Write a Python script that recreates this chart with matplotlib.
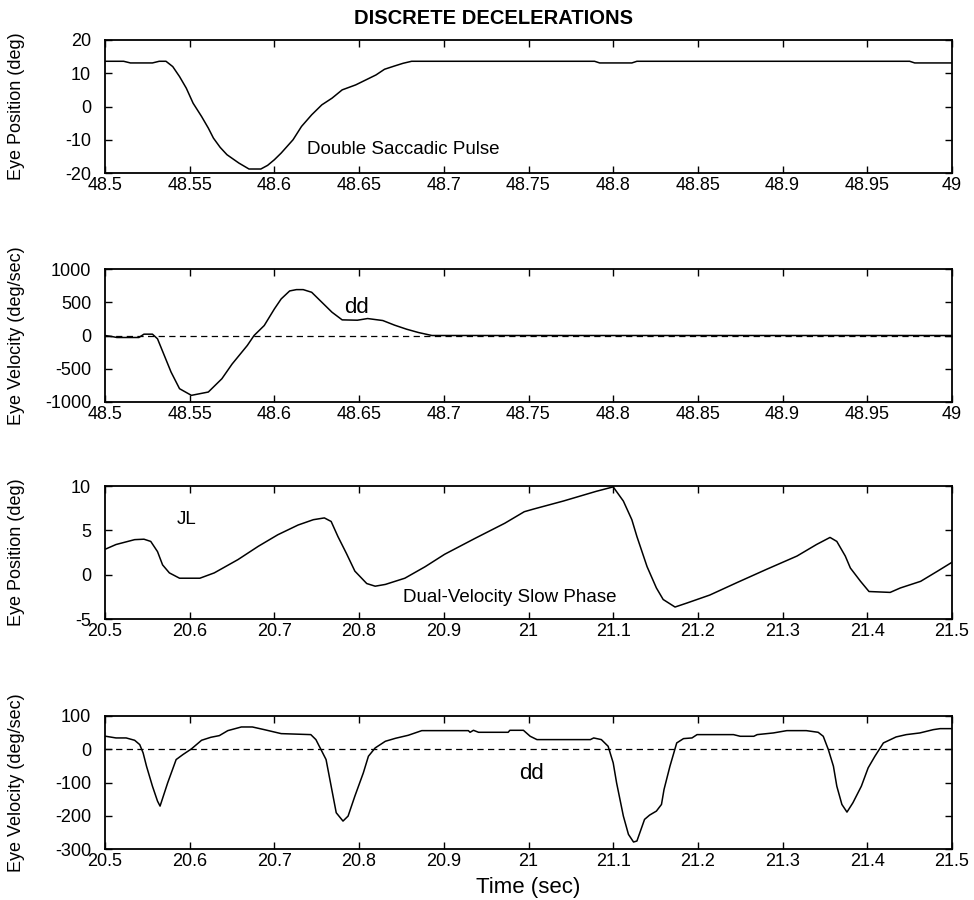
#
# Discrete decelerations: eye position / velocity traces (two recordings)
#

import matplotlib
matplotlib.use('Agg')
import matplotlib.pyplot as plt

plt.rcParams['font.family'] = ['Liberation Sans', 'DejaVu Sans']
plt.rcParams['axes.unicode_minus'] = False

# --- double saccadic pulse, 48.5-49 s ---
t_pulse = [48.500, 48.511, 48.515, 48.528, 48.532, 48.536, 48.540, 48.544,
           48.548, 48.552, 48.557, 48.561, 48.564, 48.568, 48.572, 48.579,
           48.585, 48.592, 48.596, 48.600, 48.604, 48.611, 48.616, 48.622,
           48.628, 48.634, 48.640, 48.648, 48.654, 48.660, 48.665, 48.671,
           48.676, 48.681, 48.789, 48.792, 48.811, 48.814, 48.975, 48.978,
           49.000]
pos_pulse = [13.6, 13.6, 13.1, 13.1, 13.6, 13.6, 12.0, 9.0,
             5.5, 1.0, -3.0, -6.5, -9.5, -12.3, -14.5, -17.0,
             -18.8, -18.8, -17.7, -16.0, -14.0, -10.0, -6.0, -2.5,
             0.5, 2.5, 5.0, 6.5, 8.0, 9.5, 11.2, 12.2,
             13.0, 13.6, 13.6, 13.1, 13.1, 13.6, 13.6, 13.1,
             13.1]

t_pulse_v = [48.500, 48.505, 48.507, 48.520, 48.523, 48.528, 48.531, 48.535,
             48.539, 48.544, 48.551, 48.561, 48.569, 48.575, 48.584, 48.588,
             48.594, 48.600, 48.604, 48.609, 48.613, 48.617, 48.622, 48.628,
             48.634, 48.640, 48.649, 48.655, 48.664, 48.671, 48.678, 48.685,
             48.693, 49.000]
vel_pulse = [0, -20, -30, -30, 20, 20, -50, -300,
             -550, -800, -900, -850, -650, -430, -150, 0,
             150, 400, 550, 670, 690, 690, 650, 500,
             350, 235, 230, 255, 225, 155, 95, 45,
             0, 0]

# --- dual-velocity slow phase, 20.5-21.5 s ---
t_slow = [20.501, 20.513, 20.535, 20.546, 20.554, 20.562, 20.568, 20.576,
          20.588, 20.612, 20.629, 20.657, 20.681, 20.704, 20.728, 20.746,
          20.759, 20.767, 20.775, 20.785, 20.795, 20.809, 20.819, 20.831,
          20.854, 20.878, 20.901, 20.937, 20.972, 20.995, 21.006, 21.041,
          21.080, 21.100, 21.112, 21.122, 21.128, 21.140, 21.151, 21.159,
          21.173, 21.187, 21.214, 21.246, 21.281, 21.317, 21.340, 21.356,
          21.364, 21.374, 21.380, 21.392, 21.402, 21.427, 21.439, 21.463,
          21.483, 21.500]
pos_slow = [2.9, 3.4, 3.95, 4.0, 3.75, 2.6, 1.1, 0.2,
            -0.4, -0.4, 0.2, 1.7, 3.2, 4.5, 5.6, 6.2,
            6.4, 6.0, 4.3, 2.4, 0.4, -1.0, -1.3, -1.1,
            -0.4, 0.9, 2.3, 4.1, 5.8, 7.1, 7.4, 8.3,
            9.4, 9.9, 8.3, 6.2, 4.3, 0.9, -1.5, -2.8,
            -3.65, -3.2, -2.3, -0.9, 0.6, 2.1, 3.4, 4.2,
            3.75, 2.1, 0.75, -0.75, -1.9, -2.0, -1.5, -0.75,
            0.4, 1.4]

t_slow_v = [20.501, 20.513, 20.525, 20.535, 20.541, 20.545, 20.549, 20.556,
            20.562, 20.565, 20.574, 20.584, 20.592, 20.602, 20.614, 20.625,
            20.635, 20.645, 20.661, 20.674, 20.688, 20.708, 20.743, 20.749,
            20.755, 20.761, 20.767, 20.773, 20.781, 20.787, 20.795, 20.805,
            20.811, 20.819, 20.831, 20.843, 20.858, 20.874, 20.929, 20.931,
            20.935, 20.941, 20.976, 20.978, 20.994, 21.002, 21.010, 21.073,
            21.077, 21.086, 21.094, 21.100, 21.104, 21.112, 21.118, 21.124,
            21.128, 21.137, 21.143, 21.151, 21.157, 21.160, 21.167, 21.175,
            21.183, 21.193, 21.199, 21.242, 21.250, 21.266, 21.270, 21.289,
            21.305, 21.328, 21.342, 21.348, 21.354, 21.360, 21.364, 21.370,
            21.376, 21.383, 21.393, 21.401, 21.409, 21.419, 21.434, 21.446,
            21.462, 21.478, 21.486, 21.500]
vel_slow = [39, 34, 34, 27, 14, -11, -51, -111,
            -156, -171, -101, -31, -16, 1, 27, 36,
            41, 56, 67, 67, 59, 47, 44, 29,
            -1, -31, -111, -191, -216, -201, -141, -71,
            -21, 4, 24, 33, 42, 56, 56, 51,
            57, 51, 51, 57, 57, 39, 29, 29,
            34, 29, 9, -41, -101, -201, -256, -279,
            -276, -211, -198, -186, -166, -121, -51, 19,
            32, 34, 44, 44, 39, 39, 44, 49,
            56, 56, 51, 39, -1, -51, -111, -166,
            -189, -161, -111, -56, -21, 19, 37, 44,
            49, 59, 62, 62]

# ticks
xt_pulse = [48.5, 48.55, 48.6, 48.65, 48.7, 48.75, 48.8, 48.85, 48.9, 48.95, 49.0]
xl_pulse = ['48.5', '48.55', '48.6', '48.65', '48.7', '48.75', '48.8', '48.85',
            '48.9', '48.95', '49']
xt_slow = [20.5, 20.6, 20.7, 20.8, 20.9, 21.0, 21.1, 21.2, 21.3, 21.4, 21.5]
xl_slow = ['20.5', '20.6', '20.7', '20.8', '20.9', '21', '21.1', '21.2',
           '21.3', '21.4', '21.5']

fig = plt.figure(figsize=(9.74, 9.0), dpi=100)

L, W = 105/974, 847/974
tops = [40, 269, 486, 716]
H = 133/900
axes = [fig.add_axes([L, 1 - (top + 133)/900, W, H]) for top in tops]

TICK_FS = 13
NOTE_FS = 13.5


def style(ax, xlim, ylim, xticks, xlabels, yticks, ylabel):
    ax.set_xlim(*xlim)
    ax.set_ylim(*ylim)
    ax.set_xticks(xticks)
    ax.set_xticklabels(xlabels)
    ax.set_yticks(yticks)
    ax.tick_params(direction='in', length=5, width=1, top=True, right=True,
                   labelsize=TICK_FS, color='black')
    ax.tick_params(axis='x', pad=3)
    ax.tick_params(axis='y', pad=10)
    for sp in ax.spines.values():
        sp.set_linewidth(1.3)
    ax.set_ylabel(ylabel, fontsize=13, va='center')
    ax.yaxis.set_label_coords(-0.104, 0.5)


dash = (0, (5, 3.5))

ax = axes[0]
ax.plot(t_pulse, pos_pulse, color='black', lw=1.1)
style(ax, (48.5, 49), (-20, 20), xt_pulse, xl_pulse, [-20, -10, 0, 10, 20],
      'Eye Position (deg)')
ax.text(48.619, -13.0, 'Double Saccadic Pulse', fontsize=NOTE_FS, va='center')

ax = axes[1]
ax.axhline(0, color='black', lw=0.9, ls=dash)
ax.plot(t_pulse_v, vel_pulse, color='black', lw=1.1)
style(ax, (48.5, 49), (-1000, 1000), xt_pulse, xl_pulse,
      [-1000, -500, 0, 500, 1000], 'Eye Velocity (deg/sec)')
ax.text(48.641, 422, 'dd', fontsize=16, va='center')

ax = axes[2]
ax.plot(t_slow, pos_slow, color='black', lw=1.1)
style(ax, (20.5, 21.5), (-5, 10), xt_slow, xl_slow, [-5, 0, 5, 10],
      'Eye Position (deg)')
ax.text(20.585, 6.24, 'JL', fontsize=NOTE_FS, va='center')
ax.text(20.852, -2.55, 'Dual-Velocity Slow Phase', fontsize=NOTE_FS, va='center')

ax = axes[3]
ax.axhline(0, color='black', lw=0.9, ls=dash)
ax.plot(t_slow_v, vel_slow, color='black', lw=1.1)
style(ax, (20.5, 21.5), (-300, 100), xt_slow, xl_slow,
      [-300, -200, -100, 0, 100], 'Eye Velocity (deg/sec)')
ax.text(20.989, -72, 'dd', fontsize=16, va='center')
ax.set_xlabel('Time (sec)', fontsize=16, va='center')
ax.xaxis.set_label_coords(0.5, -0.293)

fig.text(494/974, 1 - 18/900, 'DISCRETE DECELERATIONS', fontsize=14.5,
         fontweight='bold', ha='center', va='center')

fig.savefig('out.png', dpi=100)
